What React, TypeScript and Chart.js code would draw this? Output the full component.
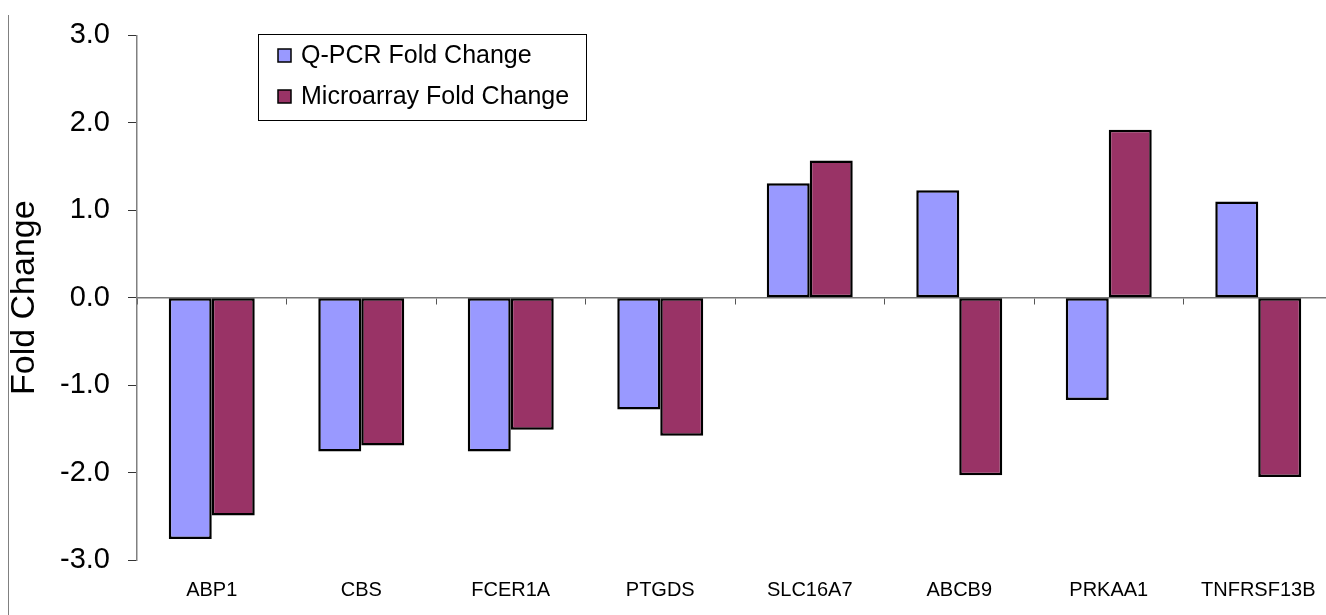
import React, { useEffect, useRef } from "react";
import { Chart, registerables } from "chart.js";

Chart.register(...registerables);

const categories = ["ABP1", "CBS", "FCER1A", "PTGDS", "SLC16A7", "ABCB9", "PRKAA1", "TNFRSF13B"];
const qpcrValues = [-2.76, -1.76, -1.76, -1.28, 1.31, 1.23, -1.17, 1.1];
const microarrayValues = [-2.49, -1.69, -1.51, -1.58, 1.57, -2.03, 1.92, -2.05];
const seriesNames = ["Q-PCR Fold Change", "Microarray Fold Change"];
const seriesColors = ["#9999FF", "#993366"];
const yMin = -3;
const yMax = 3;
const yStep = 1;
const yTitle = "Fold Change";

const FONT = '"Liberation Sans", Arial, Helvetica, sans-serif';

const boxLegend = {
  id: "boxLegend",
  afterDraw(chart: any) {
    const o = chart.options.plugins.boxLegend;
    const ctx = chart.ctx;
    ctx.save();
    ctx.fillStyle = "#ffffff";
    ctx.fillRect(o.left, o.top, o.width, o.height);
    ctx.strokeStyle = "#000000";
    ctx.lineWidth = 1;
    ctx.strokeRect(o.left + 0.5, o.top + 0.5, o.width, o.height);
    chart.data.datasets.forEach((ds: any, i: number) => {
      const cy = o.top + o.firstRow + i * o.rowGap;
      const s = o.swatch;
      ctx.fillStyle = ds.backgroundColor;
      ctx.fillRect(o.swatchX, cy - s / 2, s, s);
      ctx.lineWidth = 1.5;
      ctx.strokeStyle = "#000000";
      ctx.strokeRect(o.swatchX, cy - s / 2, s, s);
      ctx.fillStyle = "#000000";
      ctx.font = `${o.fontSize}px ${FONT}`;
      ctx.textBaseline = "middle";
      ctx.textAlign = "left";
      ctx.fillText(ds.label, o.textX, cy + 1);
    });
    ctx.restore();
  },
};

export default function App() {
  const ref = useRef<HTMLCanvasElement | null>(null);

  useEffect(() => {
    document.body.style.margin = "0";
    const canvas = ref.current;
    if (!canvas) return;
    const chart = new Chart(canvas, {
      type: "bar",
      data: {
        labels: categories,
        datasets: [
          {
            label: seriesNames[0],
            data: qpcrValues,
            backgroundColor: seriesColors[0],
            borderColor: "#000000",
            borderWidth: 2.5,
            borderSkipped: false,
          },
          {
            label: seriesNames[1],
            data: microarrayValues,
            backgroundColor: seriesColors[1],
            borderColor: "#000000",
            borderWidth: 2.5,
            borderSkipped: false,
          },
        ],
      },
      options: {
        responsive: false,
        animation: false,
        layout: { padding: { top: 32, right: 12, bottom: 0, left: 0 } },
        datasets: {
          bar: { categoryPercentage: 0.575, barPercentage: 1 },
        },
        plugins: {
          legend: { display: false },
          tooltip: { enabled: false },
          boxLegend: {
            left: 258,
            top: 34,
            width: 328,
            height: 86,
            firstRow: 21.5,
            rowGap: 41,
            swatch: 13,
            swatchX: 278,
            textX: 301,
            fontSize: 25,
          },
        } as any,
        scales: {
          x: {
            type: "category",
            position: "bottom",
            offset: true,
            grid: { display: false, drawTicks: false },
            border: { display: false },
            ticks: {
              color: "#000000",
              font: { family: FONT, size: 20 },
              padding: 18,
              maxRotation: 0,
              autoSkip: false,
            },
            afterFit: (scale: any) => {
              scale.height = 55;
            },
          },
          x2: {
            type: "category",
            position: { y: 0 } as any,
            offset: true,
            grid: {
              offset: true,
              drawOnChartArea: false,
              drawTicks: true,
              tickLength: 6,
              tickColor: "#555555",
            },
            border: { display: true, color: "#777777", width: 1.5 },
            ticks: { display: false },
          },
          y: {
            min: yMin,
            max: yMax,
            ticks: {
              stepSize: yStep,
              color: "#000000",
              font: { family: FONT, size: 29 },
              padding: 18,
              callback: (v: any) => Number(v).toFixed(1),
            },
            grid: {
              drawOnChartArea: false,
              drawTicks: true,
              tickLength: 9,
              tickColor: "#333333",
            },
            border: { display: true, color: "#808080", width: 1.5 },
            title: {
              display: true,
              text: yTitle,
              color: "#000000",
              font: { family: FONT, size: 34, weight: "normal" },
              padding: { top: 4, bottom: 0 },
            },
            afterFit: (scale: any) => {
              scale.width = 137;
            },
          },
        },
      },
      plugins: [boxLegend],
    });
    return () => chart.destroy();
  }, []);

  return (
    <div style={{ position: "relative", width: 1326, height: 615, overflow: "hidden", background: "#fff" }}>
      <div
        style={{
          position: "absolute",
          left: 8,
          top: 15,
          width: 1,
          height: 600,
          background: "#808080",
        }}
      />
      <canvas ref={ref} width={1345} height={615} style={{ position: "absolute", left: 0, top: 0 }} />
    </div>
  );
}
